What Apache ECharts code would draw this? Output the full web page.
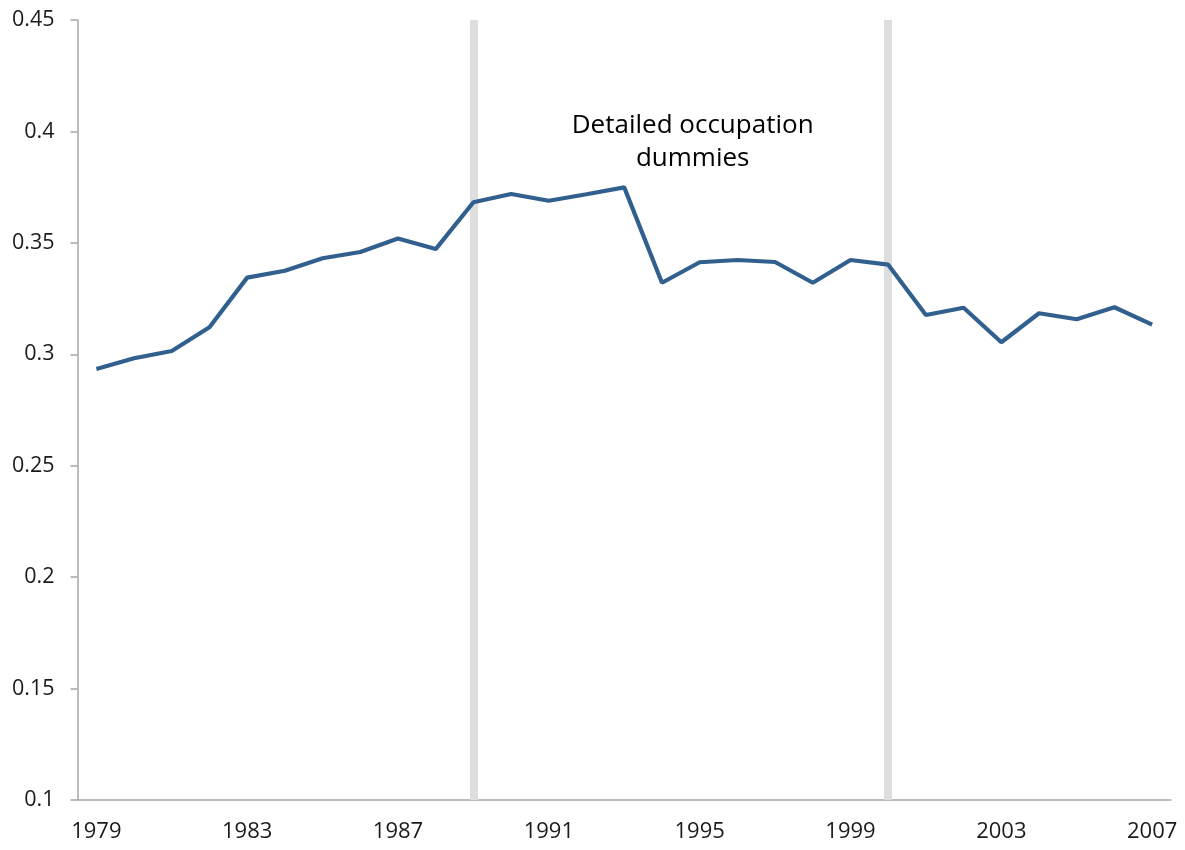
<!DOCTYPE html>
<html>
<head>
<meta charset="utf-8">
<script src="https://cdn.jsdelivr.net/npm/echarts@6/dist/echarts.min.js"></script>
<style>
html,body{margin:0;padding:0;background:#fff;}
#chart{width:1185px;height:850px;}
</style>
</head>
<body>
<div id="chart"></div>
<script>
const years = ['1979','1980','1981','1982','1983','1984','1985','1986','1987','1988','1989','1990','1991','1992','1993','1994','1995','1996','1997','1998','1999','2000','2001','2002','2003','2004','2005','2006','2007'];
const values = [0.2934,0.2982,0.3015,0.3121,0.3344,0.3375,0.3431,0.3459,0.3520,0.3472,0.3682,0.3719,0.3689,0.3718,0.3749,0.3321,0.3413,0.3423,0.3414,0.3321,0.3423,0.3402,0.3176,0.3209,0.3054,0.3184,0.3157,0.3211,0.3133];
const breakYears = ['1989','2000'];
const annotationText = 'Detailed occupation\ndummies';
const annotationYear = '1995';
const annotationValue = 0.39;

const chart = echarts.init(document.getElementById('chart'));
const font = 'Open Sans';
chart.setOption({
  animation: false,
  grid: {left: 77.5, right: 14, top: 20, bottom: 50},
  xAxis: {
    type: 'category',
    data: years,
    boundaryGap: true,
    axisLine: {lineStyle: {color: '#a6a6a6', width: 1.5}},
    axisTick: {interval: 3, length: 7, lineStyle: {color: '#a6a6a6', width: 1.5}},
    axisLabel: {interval: 3, margin: 21, fontSize: 22, fontFamily: font, color: '#1a1a1a'},
    splitLine: {show: false}
  },
  yAxis: {
    type: 'value',
    min: 0.1, max: 0.45, interval: 0.05,
    axisLine: {show: true, lineStyle: {color: '#a6a6a6', width: 1.5}},
    axisTick: {show: true, length: 7, lineStyle: {color: '#a6a6a6', width: 1.5}},
    axisLabel: {margin: 23, fontSize: 21.5, fontFamily: font, color: '#1a1a1a',
      padding: [8, 0, 0, 0],
      formatter: v => String(parseFloat(v.toFixed(2)))},
    splitLine: {show: false}
  },
  series: [{
    type: 'line',
    data: values,
    symbol: 'none',
    lineStyle: {color: '#31608f', width: 4.2},
    z: 3,
    markLine: {
      silent: true,
      symbol: 'none',
      label: {show: false},
      lineStyle: {color: '#dedede', width: 8, type: 'solid'},
      data: breakYears.map(y => ({xAxis: y})),
      z: 1
    },
    markPoint: {
      silent: true,
      symbol: 'rect',
      symbolSize: 0,
      data: [{coord: [annotationYear, annotationValue]}],
      label: {show: true, formatter: annotationText, fontSize: 26, fontFamily: font,
        color: '#000', lineHeight: 33, align: 'center', offset: [-7, -12]}
    }
  }]
});
</script>
</body>
</html>
